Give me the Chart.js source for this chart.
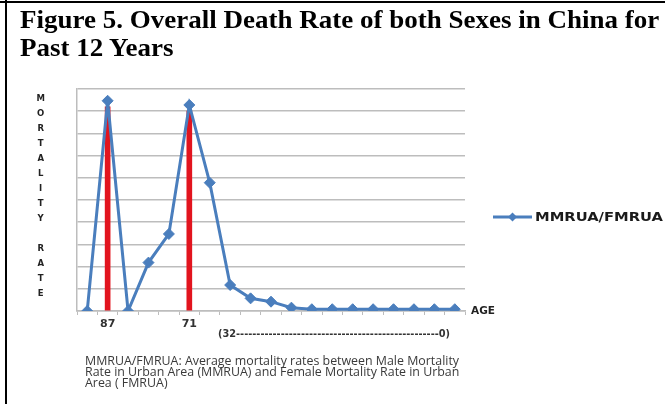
<!DOCTYPE html>
<html><head><meta charset="utf-8">
<script src="https://cdn.jsdelivr.net/npm/chart.js"></script>
<style>
html,body{margin:0;padding:0;background:#fff;}
#wrap{position:relative;width:665px;height:404px;overflow:hidden;background:#fff;}
canvas{position:absolute;left:0;top:0;}
.title{position:absolute;left:20px;top:6px;font:bold 25px "Liberation Serif","Times New Roman",serif;line-height:27.5px;color:#000;white-space:nowrap;transform:scaleX(1.08);transform-origin:0 0;}
.caption{position:absolute;left:85px;top:355px;font:12.4px "Open Sans",sans-serif;line-height:11px;color:#3a3a3a;white-space:nowrap;}
</style></head><body>
<div id="wrap">
<canvas id="c" width="665" height="404"></canvas>
<div style="position:absolute;left:0;top:1px;width:665px;height:2px;background:#000"></div>
<div style="position:absolute;left:5px;top:0;width:2px;height:404px;background:#000"></div>
<div class="title" id="title">Figure 5. Overall Death Rate of both Sexes in China for<br>Past 12 Years</div>
<div class="caption" id="cap">MMRUA/FMRUA: Average mortality rates between Male Mortality<br>Rate in Urban Area (MMRUA) and Female Mortality Rate in Urban<br>Area ( FMRUA)</div>
</div>
<script>
const ageLabels = ['', '87', '', '', '', '71', '', '', '', '', '', '', '', '', '', '', '', '', ''];
const mortality = [0, 9.47, 0, 2.18, 3.47, 9.28, 5.78, 1.17, 0.57, 0.42, 0.15, 0.08, 0.08, 0.08, 0.08, 0.08, 0.08, 0.08, 0.08];
const highlightBars = [null, 9.2, null, null, null, 9.0, null, null, null, null, null, null, null, null, null, null, null, null, null];
const seriesName = 'MMRUA/FMRUA';
const yTitle = 'MORTALITY RATE';
const xAxisName = 'AGE';
const ageRange = '(32' + '-'.repeat(50) + '0)';

const BLUE = '#4a7ebd';
const RED = '#e2141e';
const GRID = '#bdbdbd';

Chart.defaults.font.family = 'DejaVu Sans';

function drawScaledText(ctx, text, x, y, targetW) {
  const w = ctx.measureText(text).width;
  ctx.save();
  ctx.translate(x, y);
  ctx.scale(targetW / w, 1);
  ctx.fillText(text, 0, 0);
  ctx.restore();
}

const extras = {
  id: 'extras',
  afterDraw(chart) {
    const ctx = chart.ctx;
    const area = chart.chartArea;
    ctx.save();
    // vertical y-axis title letters
    ctx.fillStyle = '#222';
    ctx.font = 'bold 8.5px "DejaVu Sans"';
    ctx.textAlign = 'center';
    ctx.textBaseline = 'middle';
    yTitle.split('').forEach((ch, i) => {
      if (ch !== ' ') ctx.fillText(ch, 40.7, 99 + i * 15);
    });
    // AGE label
    ctx.textAlign = 'left';
    ctx.font = 'bold 10.5px "DejaVu Sans"';
    ctx.fillStyle = '#222';
    ctx.fillText(xAxisName, area.right + 6, area.bottom);
    // age range
    ctx.font = 'bold 10px "DejaVu Sans"';
    ctx.fillStyle = '#333';
    drawScaledText(ctx, ageRange, 218, 334, 232);
    // legend
    const ds = chart.data.datasets[0];
    const ly = 217;
    ctx.strokeStyle = ds.borderColor;
    ctx.lineWidth = 3;
    ctx.beginPath();
    ctx.moveTo(493, ly);
    ctx.lineTo(532, ly);
    ctx.stroke();
    ctx.fillStyle = ds.backgroundColor;
    ctx.beginPath();
    ctx.moveTo(512.5, ly - 4.5);
    ctx.lineTo(517, ly);
    ctx.lineTo(512.5, ly + 4.5);
    ctx.lineTo(508, ly);
    ctx.closePath();
    ctx.fill();
    ctx.fillStyle = '#1a1a1a';
    ctx.font = 'bold 12.5px "DejaVu Sans"';
    ctx.textBaseline = 'middle';
    drawScaledText(ctx, ds.label, 535, ly + 0.5, 128);
    ctx.restore();
  }
};

new Chart(document.getElementById('c'), {
  type: 'line',
  data: {
    labels: ageLabels,
    datasets: [
      {
        type: 'line',
        label: seriesName,
        data: mortality,
        borderColor: BLUE,
        backgroundColor: BLUE,
        borderWidth: 3,
        pointStyle: 'rectRot',
        pointRadius: 5.5,
        pointBorderWidth: 1,
        tension: 0,
        order: 0
      },
      {
        type: 'bar',
        label: 'highlight',
        data: highlightBars,
        backgroundColor: RED,
        barThickness: 5,
        order: 1
      }
    ]
  },
  options: {
    responsive: false,
    animation: false,
    devicePixelRatio: 1,
    layout: { padding: { left: 77, top: 89, right: 200, bottom: 63 } },
    plugins: { legend: { display: false }, tooltip: { enabled: false }, title: { display: false } },
    scales: {
      x: {
        type: 'category',
        offset: true,
        grid: { display: true, drawOnChartArea: false, drawTicks: true, tickLength: 4, offset: true, color: GRID, lineWidth: 1 },
        border: { display: true, color: GRID, width: 1.5 },
        ticks: { autoSkip: false, maxRotation: 0, padding: 3, color: '#333', font: { size: 11, weight: 'bold' } },
        afterFit(scale) { scale.height = 30; }
      },
      y: {
        min: 0, max: 10,
        grid: { color: GRID, lineWidth: 1.5, drawTicks: false },
        border: { display: true, color: GRID, width: 1.5 },
        ticks: { display: false, stepSize: 1 },
        afterFit(scale) { scale.width = 0; }
      }
    }
  },
  plugins: [extras]
});
</script>
</body></html>
